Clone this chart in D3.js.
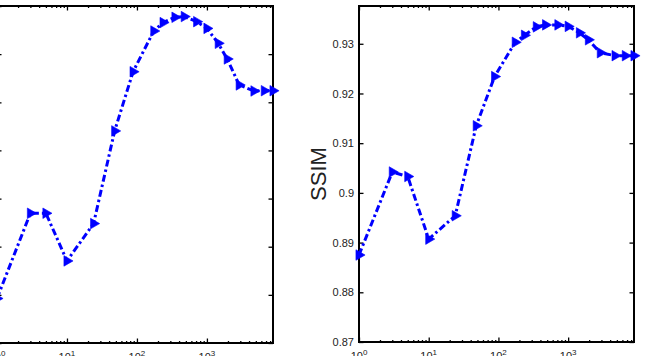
<!DOCTYPE html>
<html>
<head>
<meta charset="utf-8">
<script src="https://cdn.jsdelivr.net/npm/d3@7"></script>
<style>
  body { margin: 0; background: #fff; }
  svg { display: block; }
  text { font-family: "Liberation Sans", Arial, sans-serif; fill: #222; }
</style>
</head>
<body>
<div id="wrapper"></div>
<script>
// x positions shared by both panels (log axis)
const xValues = [1, 3, 5, 10, 24, 48, 88, 174, 236, 349, 474, 712, 1000, 1450, 1950, 2890, 4700, 6600, 8800];
// left panel (tick labels fall outside the picture)
const leftValues = [30.185, 30.539, 30.539, 30.341, 30.496, 30.881, 31.127, 31.296, 31.331, 31.353,
                    31.356, 31.335, 31.307, 31.245, 31.180, 31.072, 31.047, 31.048, 31.048];
const leftTicks = [30.0, 30.2, 30.4, 30.6, 30.8, 31.0, 31.2, 31.4];
const leftTickLabels = ["30", "30.2", "30.4", "30.6", "30.8", "31", "31.2", "31.4"];
// right panel: SSIM
const ssimValues = [0.8875, 0.9042, 0.9033, 0.8907, 0.8954, 0.9135, 0.9234, 0.9303, 0.9317, 0.9334,
                    0.9338, 0.9338, 0.9335, 0.9322, 0.9308, 0.9282, 0.9276, 0.9276, 0.9276];
const ssimTicks = [0.87, 0.88, 0.89, 0.90, 0.91, 0.92, 0.93];
const ssimTickLabels = ["0.87", "0.88", "0.89", "0.9", "0.91", "0.92", "0.93"];
const xMajor = [1, 10, 100, 1000];
const xExp = ["0", "1", "2", "3"];

const width = 645, height = 356;
const svg = d3.select("#wrapper").append("svg")
    .attr("width", width)
    .attr("height", height);

function drawPanel(box, values, yDomain, yTicks, yLabels, yTitle) {
    const xScale = d3.scaleLog()
        .domain([1, 8800])
        .range([box.left, box.right]);
    const yScale = d3.scaleLinear()
        .domain(yDomain)
        .range([box.bottom, box.top]);

    const g = svg.append("g");

    // minor ticks on log x
    const minor = [];
    for (let d = 1; d <= 1000; d *= 10) {
        for (let k = 2; k <= 9; k++) {
            if (d * k <= 8800) minor.push(d * k);
        }
    }

    // bottom axis (ticks point inward)
    g.append("g")
        .attr("transform", `translate(0,${box.bottom})`)
        .call(d3.axisBottom(xScale).tickValues(minor).tickSize(-2).tickFormat(""))
        .call(a => a.select(".domain").remove());
    g.append("g")
        .attr("transform", `translate(0,${box.bottom})`)
        .call(d3.axisBottom(xScale).tickValues(xMajor).tickSize(-4.5).tickFormat(""))
        .call(a => a.select(".domain").remove());
    // top axis
    g.append("g")
        .attr("transform", `translate(0,${box.top})`)
        .call(d3.axisTop(xScale).tickValues(minor).tickSize(-2).tickFormat(""))
        .call(a => a.select(".domain").remove());
    g.append("g")
        .attr("transform", `translate(0,${box.top})`)
        .call(d3.axisTop(xScale).tickValues(xMajor).tickSize(-4.5).tickFormat(""))
        .call(a => a.select(".domain").remove());
    // left + right y axes
    g.append("g")
        .attr("transform", `translate(${box.left},0)`)
        .call(d3.axisLeft(yScale).tickValues(yTicks).tickSize(-4.5)
            .tickPadding(5).tickFormat((d, i) => yLabels[i]))
        .call(a => a.select(".domain").remove())
        .call(a => a.selectAll("text").style("font-size", "11px")
            .style("font-family", "'Liberation Sans', Arial, sans-serif").attr("fill", "#333"));
    g.append("g")
        .attr("transform", `translate(${box.right},0)`)
        .call(d3.axisRight(yScale).tickValues(yTicks).tickSize(-4.5).tickFormat(""))
        .call(a => a.select(".domain").remove());

    g.selectAll(".tick line").attr("stroke", "#000").attr("stroke-width", 1.3);

    // x tick labels 10^n (partly below the picture, as in the original)
    const lab = g.append("g").selectAll("text")
        .data(xMajor)
        .join("text")
        .attr("x", d => xScale(d))
        .attr("y", box.bottom + 18)
        .attr("text-anchor", "middle")
        .attr("fill", "#333")
        .style("font-size", "11px");
    lab.append("tspan").text("10");
    lab.append("tspan")
        .attr("dy", -5)
        .style("font-size", "8px")
        .text((d, i) => xExp[i]);

    // frame
    g.append("rect")
        .attr("x", box.left)
        .attr("y", box.top)
        .attr("width", box.right - box.left)
        .attr("height", box.bottom - box.top)
        .attr("fill", "none")
        .attr("stroke", "#000")
        .attr("stroke-width", 2);

    // y title
    g.append("text")
        .attr("transform", `translate(${box.left - 33},${(box.top + box.bottom) / 2}) rotate(-90)`)
        .attr("text-anchor", "middle")
        .style("font-size", "22px")
        .attr("fill", "#222")
        .text(yTitle);

    // line
    const line = d3.line()
        .x((d, i) => xScale(xValues[i]))
        .y(d => yScale(d));
    g.append("path")
        .datum(values)
        .attr("d", line)
        .attr("fill", "none")
        .attr("stroke", "#0000ff")
        .attr("stroke-width", 3)
        .attr("stroke-dasharray", "7,3,2.5,3");

    // right-pointing triangle markers
    const tri = d3.symbol().type(d3.symbolTriangle).size(48);
    g.append("g").selectAll("path")
        .data(values)
        .join("path")
        .attr("d", tri)
        .attr("transform", (d, i) => `translate(${xScale(xValues[i])},${yScale(d)}) rotate(90)`)
        .attr("fill", "#0000ff")
        .attr("stroke", "#0000ff")
        .attr("stroke-width", 0.6);
}

drawPanel({left: -3, right: 273, top: 6, bottom: 343},
    leftValues, [30.0, 31.4], leftTicks, leftTickLabels, "PSNR");
drawPanel({left: 359, right: 634, top: 6, bottom: 342},
    ssimValues, [0.87, 0.9376], ssimTicks, ssimTickLabels, "SSIM");
</script>
</body>
</html>
